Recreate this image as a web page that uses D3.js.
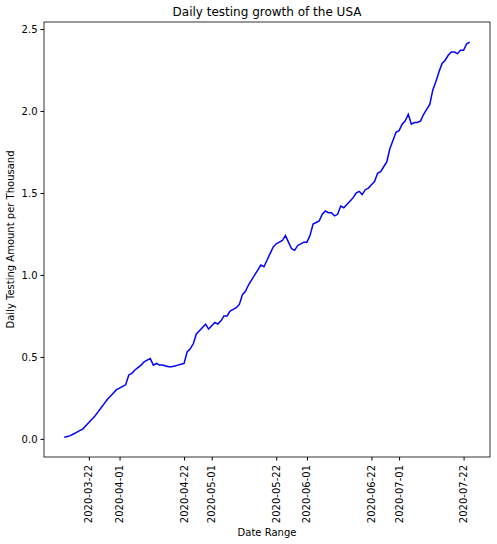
<!DOCTYPE html>
<html><head><meta charset="utf-8">
<script src="https://cdn.jsdelivr.net/npm/d3@7"></script>
<style>body{margin:0;background:#fff;font-family:"DejaVu Sans",sans-serif}</style>
</head><body>
<script>
const startDate = "2020-03-14";
const values = [0.01,0.015,0.02,0.03,0.04,0.05,0.06,0.08,0.10,0.12,0.14,0.165,0.19,0.215,0.24,0.26,0.28,0.30,0.31,0.32,0.33,0.39,0.40,0.42,0.435,0.45,0.47,0.48,0.49,0.45,0.46,0.45,0.45,0.445,0.44,0.44,0.445,0.45,0.455,0.46,0.53,0.55,0.58,0.64,0.66,0.68,0.70,0.67,0.69,0.71,0.70,0.72,0.75,0.75,0.78,0.79,0.80,0.82,0.88,0.90,0.94,0.97,1.00,1.03,1.06,1.05,1.09,1.13,1.17,1.19,1.20,1.21,1.24,1.20,1.16,1.15,1.18,1.19,1.20,1.20,1.24,1.31,1.32,1.33,1.37,1.39,1.38,1.38,1.36,1.37,1.42,1.41,1.43,1.45,1.47,1.50,1.51,1.49,1.52,1.53,1.55,1.57,1.62,1.63,1.66,1.69,1.77,1.82,1.87,1.88,1.92,1.94,1.98,1.92,1.93,1.93,1.94,1.98,2.01,2.04,2.13,2.18,2.24,2.29,2.31,2.34,2.36,2.36,2.35,2.37,2.37,2.41,2.42];
const tickDates = ["2020-03-22","2020-04-01","2020-04-22","2020-05-01","2020-05-22","2020-06-01","2020-06-22","2020-07-01","2020-07-22"];
const yTicks = [0,0.5,1,1.5,2,2.5];

const W = 497, H = 544, m = {l:44, r:7, t:22, b:87};
const parse = d3.utcParse("%Y-%m-%d");
const t0 = parse(startDate);
const data = values.map((v,i)=>({d:d3.utcDay.offset(t0,i), v}));

const svg = d3.select("body").append("svg").attr("width",W).attr("height",H);
const ext = d3.extent(data,d=>d.d);
const span = ext[1]-ext[0];
const x = d3.scaleUtc().domain([new Date(+ext[0]-span*0.05), new Date(+ext[1]+span*0.05)]).range([m.l, W-m.r]);
const y = d3.scaleLinear().domain([-0.1105, 2.543]).range([H-m.b, m.t]);

svg.append("g").attr("transform",`translate(0,${H-m.b})`)
  .call(d3.axisBottom(x).tickValues(tickDates.map(parse)).tickFormat(d3.utcFormat("%Y-%m-%d")).tickSizeOuter(0).tickSize(3.5))
  .call(g=>g.selectAll("text").attr("transform","rotate(-90)").attr("text-anchor","end").attr("dx","-0.5em").attr("dy","0.3em").attr("y",0).attr("x",-3))
  .attr("font-size",10).attr("font-family","DejaVu Sans");
svg.append("g").attr("transform",`translate(${m.l},0)`)
  .call(d3.axisLeft(y).tickValues(yTicks).tickFormat(d3.format(".1f")).tickSizeOuter(0).tickSize(3.5))
  .attr("font-size",10).attr("font-family","DejaVu Sans");
svg.selectAll(".domain").remove();
svg.append("rect").attr("x",m.l).attr("y",m.t).attr("width",W-m.r-m.l).attr("height",H-m.b-m.t)
  .attr("fill","none").attr("stroke","#000").attr("stroke-width",0.8);

svg.append("path").datum(data).attr("fill","none").attr("stroke","blue").attr("stroke-width",1.5)
  .attr("d",d3.line().x(d=>x(d.d)).y(d=>y(d.v)));

svg.append("text").attr("x",(m.l+W-m.r)/2).attr("y",16).attr("text-anchor","middle").attr("font-size",12).text("Daily testing growth of the USA");
svg.append("text").attr("x",(m.l+W-m.r)/2).attr("y",536).attr("text-anchor","middle").attr("font-size",10).text("Date Range");
svg.append("text").attr("transform",`translate(14,${(m.t+H-m.b)/2}) rotate(-90)`).attr("text-anchor","middle").attr("font-size",10).text("Daily Testing Amount per Thousand");
</script>
</body></html>
